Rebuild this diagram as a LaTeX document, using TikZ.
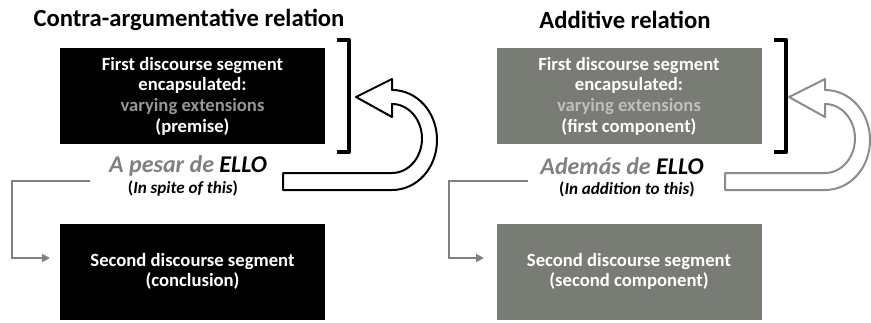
\documentclass[tikz,border=0pt]{standalone}
\usepackage{fontspec}
\setmainfont{Carlito}
\usetikzlibrary{arrows.meta}

\definecolor{boxgray}{RGB}{121,123,117}
\definecolor{midgray}{RGB}{128,128,128}
\definecolor{softgray}{RGB}{150,150,150}
\definecolor{palegray}{RGB}{190,190,190}
\definecolor{linegray}{RGB}{140,140,140}

\tikzset{
	title/.style={font=\fontsize{18.5}{22}\selectfont\bfseries},
	segbox/.style={minimum width=198.75pt, minimum height=72pt, inner sep=0pt,
		text=white, align=center, font=\fontsize{14}{15.5}\selectfont\bfseries},
	conn/.style={font=\fontsize{18}{21}\selectfont\bfseries\itshape},
	gloss/.style={font=\fontsize{12.8}{15}\selectfont\bfseries},
	bracket/.style={line width=3pt, line join=round},
	elbow/.style={draw=midgray, line width=1.8pt, -{Triangle[length=6pt,width=6pt]}}
}

% U-turn block arrow: #1 outline colour, #2 shift, #3 left end of lower arm
\newcommand{\uturnarrow}[3]{%
	\draw[draw=#1, fill=white, line width=1.5pt, line join=round, shift={(#2,0)}]
		(356,97) -- (392,79) -- (392,90)
		.. controls (417,90) and (437,112) .. (437,140)
		.. controls (437,168) and (417,190) .. (392,190)
		-- (#3,190) -- (#3,173) -- (392,173)
		.. controls (409,173) and (422,157) .. (422,138.5)
		.. controls (422,120) and (409,104) .. (392,104)
		-- (392,117) -- cycle;
}

\begin{document}
\begin{tikzpicture}[x=0.75pt, y=-0.75pt]
	\useasboundingbox (0,0) rectangle (871,322);
	
	% Title Labels
	\node[title] (titleL) at (189,20) {Contra-argumentative relation};
	\node[title] (titleR) at (625,20) {Additive relation};
	
	% Contra-argumentative side
	\node[segbox, fill=black] (firstL) at (192.5,96)
		{First discourse segment\\ encapsulated:\\ \textcolor{softgray}{varying extensions}\\ (premise)};
	\node[segbox, fill=black] (secondL) at (192.5,271.5)
		{Second discourse segment\\ (conclusion)};
	\draw[bracket] (337,40) -- (349,40) -- (349,152) -- (337,152);
	\uturnarrow{black}{0}{283}
	\node[conn] (connL) at (188,166) {\textcolor{midgray}{A pesar de} ELLO};
	\node[gloss] (glossL) at (183,189) {(\textit{In spite of this})};
	\coordinate (startL) at (90,181);
	\coordinate (endL) at (50,258);
	\draw[elbow] (startL) -- (12,181) |- (endL);
	
	% Additive side
	\node[segbox, fill=boxgray] (firstR) at (629,96)
		{First discourse segment\\ encapsulated:\\ \textcolor{palegray}{varying extensions}\\ (first component)};
	\node[segbox, fill=boxgray] (secondR) at (629,271.5)
		{Second discourse segment\\ (second component)};
	\draw[bracket] (774,40) -- (786,40) -- (786,152) -- (774,152);
	\uturnarrow{linegray}{433}{292}
	\node[conn] (connR) at (622,166) {\textcolor{midgray}{Además de} ELLO};
	\node[gloss] (glossR) at (627,189) {(\textit{In addition to this})};
	\coordinate (startR) at (528,181);
	\coordinate (endR) at (484,258);
	\draw[elbow] (startR) -- (449,181) |- (endR);
	
\end{tikzpicture}
\end{document}
